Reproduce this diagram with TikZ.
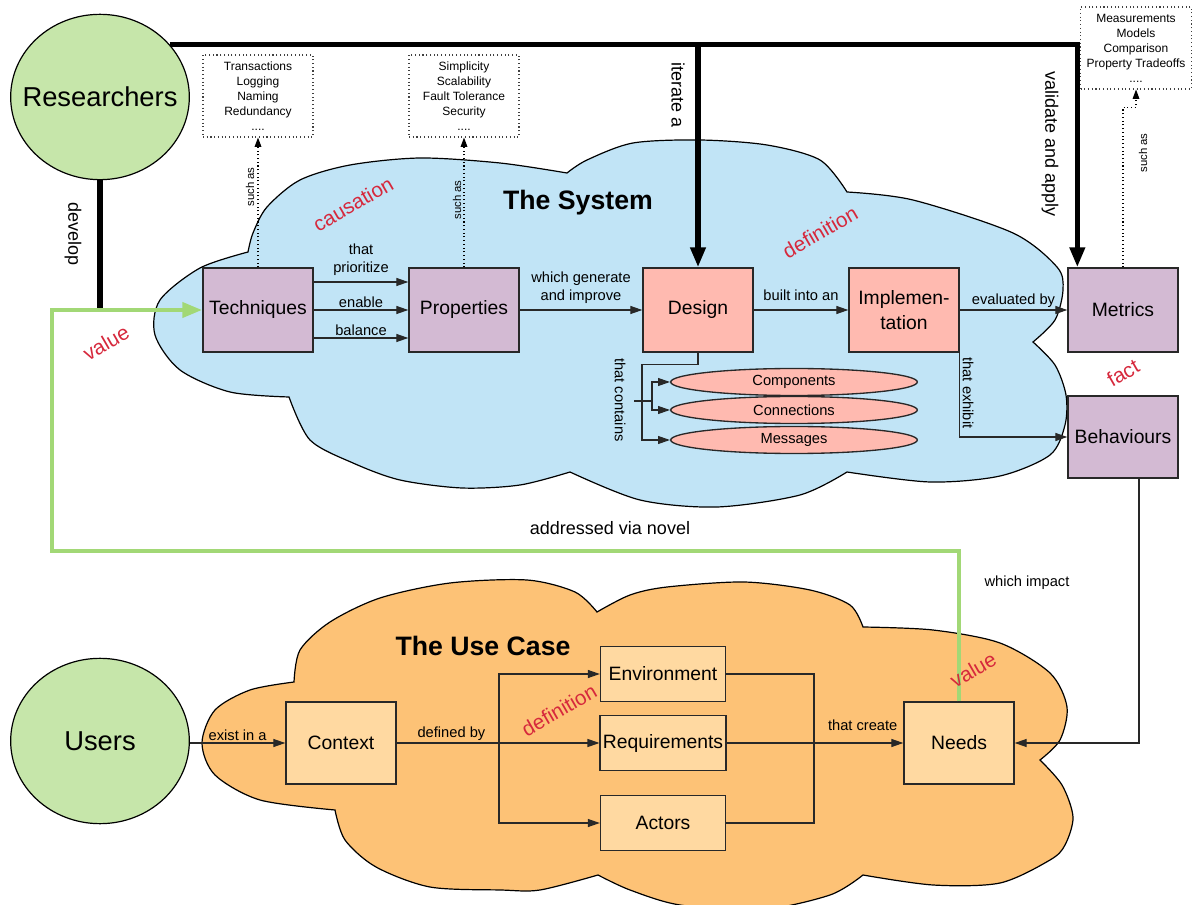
\documentclass[tikz,border=0pt]{standalone}
\usepackage{fontspec}
\setmainfont{Liberation Sans}
\usetikzlibrary{arrows.meta,shapes.geometric}

\definecolor{actorgreen}{RGB}{198,230,170}
\definecolor{syscloud}{RGB}{193,228,246}
\definecolor{casecloud}{RGB}{253,194,118}
\definecolor{casebox}{RGB}{255,217,161}
\definecolor{purplebox}{RGB}{211,186,211}
\definecolor{salmon}{RGB}{255,186,176}
\definecolor{tagred}{RGB}{214,40,60}
\definecolor{valuegreen}{RGB}{162,216,118}
\definecolor{boxline}{RGB}{40,40,40}

\begin{document}
\begin{tikzpicture}[x=0.75pt, y=-0.75pt,
    actor/.style={ellipse, draw=black, line width=0.9pt, fill=actorgreen,
        minimum width=134pt, minimum height=124pt, inner sep=-14pt,
        font=\fontsize{20.5}{24}\selectfont},
    sysbox/.style={rectangle, draw=boxline, line width=1pt, fill=#1,
        minimum width=82.5pt, minimum height=63pt, inner sep=2pt, align=center,
        font=\fontsize{14.5}{18.75}\selectfont},
    ucbox/.style={sysbox=casebox, minimum width=93.75pt, minimum height=41.25pt},
    part/.style={ellipse, draw=boxline, line width=1pt, fill=salmon,
        minimum width=185pt, minimum height=20.25pt, inner sep=0pt,
        font=\fontsize{11}{13}\selectfont},
    listbox/.style={draw=black!75, dotted, line width=0.8pt, minimum width=82.5pt,
        minimum height=61.5pt, align=center, inner sep=1pt,
        font=\fontsize{9}{11.25}\selectfont},
    title/.style={font=\bfseries\fontsize{20}{24}\selectfont},
    tag/.style={text=tagred, rotate=30, font=\fontsize{15.5}{18}\selectfont},
    lbl/.style={font=\fontsize{11}{13.5}\selectfont, align=center, inner sep=1.5pt},
    biglbl/.style={font=\fontsize{13.5}{16}\selectfont},
    suchas/.style={font=\fontsize{8.5}{10}\selectfont, rotate=90},
    cloudline/.style={draw=black, line width=0.9pt},
    flow/.style={line width=0.9pt, draw=boxline, -{Triangle[length=9pt,width=6pt]}},
    link/.style={line width=0.9pt, draw=boxline},
    spine/.style={line width=4pt, -{Triangle[length=15pt,width=11pt]}},
    hint/.style={dotted, line width=0.8pt, -{Triangle[length=7pt,width=5pt]}},
    valueline/.style={line width=3.5pt, draw=valuegreen,
        -{Triangle[length=15pt,width=11pt,fill=valuegreen]}}
]
    \useasboundingbox (0,0) rectangle (1193,905);

    % clouds
    \filldraw[cloudline, fill=syscloud]
        plot[smooth] coordinates {(248,252) (253,233) (267,207) (300,180) (350,165) (420,158) (500,163) (567,173)}
        -- plot[smooth] coordinates {(567,173) (587,160) (633,143) (700,140) (767,145) (820,160) (847,192)}
        -- plot[smooth] coordinates {(847,192) (913,200) (1013,233) (1057,267) (1063,290) (1055,320) (1033,342)}
        -- plot[smooth] coordinates {(1033,342) (1055,365) (1066,395) (1065,425) (1050,455) (1000,476) (930,482) (847,472)}
        -- plot[smooth] coordinates {(847,472) (800,495) (717,507) (640,500) (570,472)}
        -- plot[smooth] coordinates {(570,472) (520,485) (462,488) (400,480) (353,463) (310,440) (289,397)}
        -- plot[smooth] coordinates {(289,397) (230,392) (180,370) (155,335) (160,300) (200,268) (248,252)}
        -- cycle;
    \filldraw[cloudline, fill=casecloud]
        plot[smooth] coordinates {(294,682) (300,650) (330,622) (380,598) (450,583) (527,580) (575,592) (597,612)}
        -- plot[smooth] coordinates {(597,612) (630,595) (667,587) (744,582) (810,590) (850,605) (863,627)}
        -- plot[smooth] coordinates {(863,627) (933,630) (1000,643) (1050,673) (1067,707) (1060,740) (1040,760)}
        -- plot[smooth] coordinates {(1040,760) (1062,785) (1073,817) (1065,845) (1050,860) (1000,883) (933,885) (863,875)}
        -- plot[smooth] coordinates {(863,875) (830,895) (760,910) (680,905) (630,890) (598,875)}
        -- plot[smooth] coordinates {(598,875) (540,890) (501,890) (430,887) (376,867) (345,840) (335,810)}
        -- plot[smooth] coordinates {(335,810) (260,800) (215,775) (202,743) (215,710) (250,690) (294,682)}
        -- cycle;

    % actors
    \node[actor] (res) at (100,97) {Researchers};
    \node[actor] (usr) at (100,741) {Users};

    % the system
    \node[title] (systitle) at (578,203) {The System};
    \node[sysbox=purplebox] (tech) at (258,310) {Techniques};
    \node[sysbox=purplebox] (prop) at (464,310) {Properties};
    \node[sysbox=salmon] (des) at (698,310) {Design};
    \node[sysbox=salmon] (impl) at (904,310) {Implemen-\\tation};
    \node[sysbox=purplebox] (met) at (1123,310) {Metrics};
    \node[sysbox=purplebox, minimum height=61.5pt] (beh) at (1123,437) {Behaviours};
    \node[part] (comp) at (794,382) {Components};
    \node[part] (conn) at (794,410) {Connections};
    \node[part] (msg) at (794,440) {Messages};

    % examples
    \node[listbox] (techlist) at (258,96) {Transactions\\Logging\\Naming\\Redundancy\\....};
    \node[listbox] (proplist) at (464,96) {Simplicity\\Scalability\\Fault Tolerance\\Security\\....};
    \node[listbox, minimum width=83.25pt] (metlist) at (1136,48) {Measurements\\Models\\Comparison\\Property Tradeoffs\\....};

    % the use case
    \node[title] (casetitle) at (483,646) {The Use Case};
    \node[sysbox=casebox, minimum height=61.5pt] (ctx) at (341,743) {Context};
    \node[ucbox] (env) at (663,674) {Environment};
    \node[ucbox] (req) at (663,743) {Requirements};
    \node[ucbox] (act) at (663,823) {Actors};
    \node[sysbox=casebox, minimum height=61.5pt] (need) at (959,743) {Needs};

    % research lines
    \draw[spine] (res.37) -| ([xshift=7.5pt]met.north west);
    \draw[spine] (des.north |- res.37) -- (des.north);
    \draw[line width=4pt] (res.south) -- (res.south |- tech.west);
    \node[biglbl, rotate=-90] (ldev) at (73,234) {develop};
    \node[biglbl, rotate=-90] (liter) at (678,95) {iterate a};
    \node[biglbl, rotate=-90] (lvalid) at (1050,144) {validate and apply};

    % such as
    \draw[hint] (tech.north) -- (techlist.south);
    \draw[hint] (prop.north) -- (proplist.south);
    \draw[hint] (met.north) -- ++(0,-160) -| (metlist.south);
    \node[suchas] (such1) at (250,187) {such as};
    \node[suchas] (such2) at (457,200) {such as};
    \node[suchas] (such3) at (1143,153) {such as};

    % system flow
    \draw[flow] ([yshift=21pt]tech.east) -- node[lbl, above=3pt] (lprio) {that\\prioritize} ([yshift=21pt]prop.west);
    \draw[flow] (tech) -- node[lbl, above] (lenable) {enable} (prop);
    \draw[flow] ([yshift=-21pt]tech.east) -- node[lbl, above] (lbal) {balance} ([yshift=-21pt]prop.west);
    \draw[flow] (prop) -- node[lbl, above=3pt] (lgen) {which generate\\and improve} (des);
    \draw[flow] (des) -- node[lbl, above=5pt] (lbuilt) {built into an} (impl);
    \draw[flow] (impl) -- node[lbl, above] (leval) {evaluated by} (met);
    \draw[flow] (impl.south east) |- (beh.west);
    \node[lbl, rotate=-90] (lexhibit) at (968,393) {that exhibit};

    % design contents
    \coordinate (fork) at (634,401);
    \draw[flow] (des.south) -- ++(0,12) -| ([xshift=-21pt]msg.west) -- (msg.west);
    \draw[flow] (fork) -- ++(18,0) |- (comp.west);
    \draw[flow] (fork) ++(18,0) |- (conn.west);
    \node[lbl, rotate=-90] (lcontains) at (620,400) {that contains};

    % use case flow
    \coordinate (split) at (499,743);
    \coordinate (merge) at (814,743);
    \draw[flow] (usr.east |- ctx.west) -- node[lbl, above] (lexist) {exist in a} (ctx);
    \draw[flow] (ctx) -- node[lbl, above, pos=0.27] (ldefby) {defined by} (req);
    \draw[flow] (split) |- (env.west);
    \draw[flow] (split) |- (act.west);
    \draw[link] (env.east) -| (merge);
    \draw[link] (act.east) -| (merge);
    \draw[flow] (req) -- node[lbl, above=7pt, pos=0.77] (lcreate) {that create} (need);
    \draw[flow] ([xshift=12pt]beh.south) |- (need.east);
    \node[lbl] (limpact) at (1027,583) {which impact};
    \node[biglbl] (laddr) at (610,528) {addressed via novel};

    % value line
    \coordinate (vbend) at (52,551);
    \draw[valueline] (need.north) |- (vbend) |- (tech.west);

    % relation tags
    \node[tag] (tcause) at (353,204) {causation};
    \node[tag] (tdef) at (820,232) {definition};
    \node[tag] (tfact) at (1123,373) {fact};
    \node[tag] (tval) at (106,343) {value};
    \node[tag] (tdef2) at (559,710) {definition};
    \node[tag] (tval2) at (973,670) {value};
\end{tikzpicture}
\end{document}
